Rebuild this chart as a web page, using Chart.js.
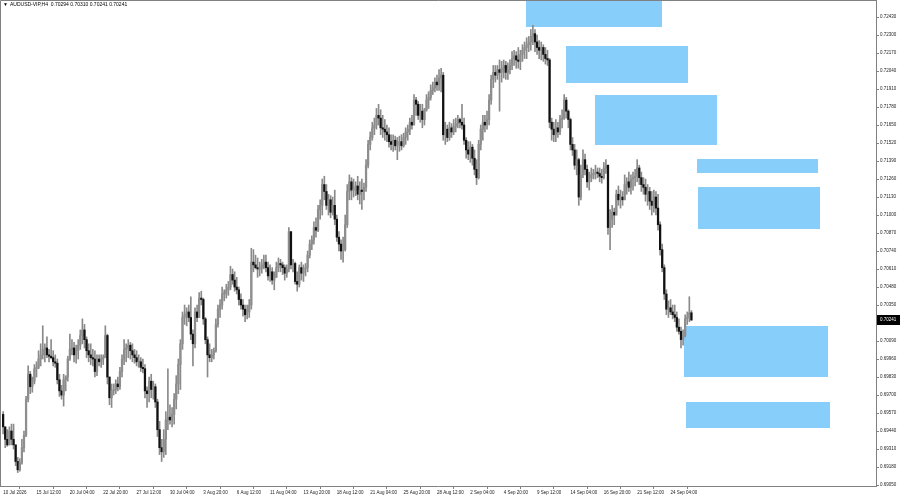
<!DOCTYPE html>
<html>
<head>
<meta charset="utf-8">
<script src="https://cdn.jsdelivr.net/npm/chart.js@4.4.1/dist/chart.umd.min.js"></script>
<style>
html,body{margin:0;padding:0;background:#fff;}
#wrap{width:900px;height:500px;position:relative;}
</style>
</head>
<body>
<div id="wrap"><canvas id="myChart"></canvas></div>
<script>
var symbolTitle = "AUDUSD-VIP,H4";
var firstOpen = 0.6956;

// H4 bars (open of each bar = previous close)
var highs = [
0.6958,0.6947,0.6945,0.6947,0.6949,0.6949,0.6934,0.6925,0.6924,0.6938,
0.6944,0.6969,0.6991,0.6987,0.6983,0.6992,0.6994,0.7002,0.7007,0.7020,
0.7007,0.7012,0.7003,0.7010,0.7002,0.6999,0.6996,0.6985,0.6977,0.6985,
0.6984,0.6998,0.7014,0.7010,0.7008,0.7006,0.7010,0.7017,0.7025,0.7021,
0.7012,0.7007,0.7007,0.7003,0.7002,0.6999,0.6999,0.6999,0.6999,0.7020,
0.7014,0.6983,0.6978,0.6978,0.6981,0.6983,0.6990,0.6999,0.7010,0.7007,
0.7010,0.7008,0.7007,0.7003,0.7002,0.6999,0.6997,0.6996,0.6992,0.6976,
0.6983,0.6985,0.6980,0.6978,0.6967,0.6951,0.6938,0.6945,0.6958,0.6989,
0.6963,0.6961,0.6971,0.6984,0.6996,0.7010,0.7030,
0.7035,0.7033,0.7035,0.7041,0.7017,0.7033,0.7035,0.7044,0.7045,0.7040,
0.7026,0.7012,0.7007,0.7003,0.7004,0.7025,0.7035,0.7039,0.7048,0.7046,
0.7050,0.7052,0.7063,0.7061,0.7059,0.7055,0.7048,0.7043,0.7039,0.7035,
0.7035,0.7039,0.7076,0.7075,0.7071,0.7069,0.7066,0.7068,0.7071,0.7071,
0.7066,0.7064,0.7062,0.7059,0.7066,0.7069,0.7068,0.7066,0.7064,0.7064,
0.7091,0.7088,0.7068,0.7066,0.7059,0.7064,0.7066,0.7064,0.7065,0.7074,
0.7082,0.7085,0.7095,0.7098,0.7107,0.7111,0.7126,0.7128,0.7122,0.7115,
0.7114,0.7113,0.7118,0.7100,0.7088,0.7082,0.7084,0.7100,0.7122,0.7129,0.7127,
0.7126,0.7124,0.7128,0.7124,0.7126,0.7123,0.7140,0.7154,0.7160,0.7167,
0.7170,0.7177,0.7180,0.7176,0.7172,0.7169,0.7165,0.7163,0.7158,0.7158,
0.7157,0.7156,0.7157,0.7158,0.7159,0.7163,0.7165,0.7170,0.7172,0.7187,
0.7185,0.7182,0.7180,0.7180,0.7177,0.7187,0.7189,0.7194,0.7196,0.7199,
0.7201,0.7205,0.7206,0.7203,0.7167,0.7165,0.7167,0.7166,0.7169,0.7170,
0.7172,0.7170,0.7180,0.7170,0.7156,0.7153,0.7153,0.7151,0.7147,0.7140,
0.7154,0.7165,0.7172,0.7172,0.7175,0.7187,0.7201,0.7208,0.7208,0.7208,
0.7212,0.7211,0.7212,0.7211,0.7210,0.7212,0.7218,0.7219,0.7218,
0.7221,0.7219,0.7223,0.7225,0.7228,0.7229,0.7234,0.7237,0.7234,0.7230,
0.7226,0.7225,0.7223,0.7221,0.7219,0.7213,0.7170,0.7167,0.7169,0.7167,
0.7172,0.7176,0.7187,0.7185,0.7176,0.7170,0.7156,0.7151,0.7147,0.7141,
0.7136,0.7147,0.7144,0.7136,0.7131,0.7134,0.7133,0.7136,0.7134,0.7134,
0.7133,0.7138,0.7140,0.7136,0.7104,0.7107,0.7105,0.7118,0.7121,0.7118,
0.7117,0.7129,0.7127,0.7131,0.7129,0.7131,0.7133,0.7140,0.7136,0.7131,
0.7127,0.7126,0.7122,0.7120,0.7117,0.7118,0.7117,0.7115,0.7095,0.7079,
0.7064,0.7046,0.7038,0.7039,0.7035,0.7035,0.7030,0.7025,0.7019,0.7017,
0.7028,0.7030,0.7041,0.70310];

var lows = [
0.6942,0.6932,0.6933,0.6934,0.6934,0.6931,0.6919,0.6914,0.6915,0.6920,
0.6929,0.6940,0.6965,0.6971,0.6972,0.6978,0.6983,0.6989,0.6991,0.6996,
0.6994,0.6997,0.6994,0.6996,0.6991,0.6990,0.6978,0.6969,0.6967,0.6962,
0.6973,0.6980,0.6995,0.6999,0.6994,0.6993,0.6996,0.7003,0.7007,0.7004,
0.6997,0.6994,0.6992,0.6991,0.6983,0.6984,0.6991,0.6990,0.6992,0.6997,
0.6978,0.6963,0.6961,0.6970,0.6971,0.6973,0.6974,0.6983,0.6992,0.6994,
0.6997,0.6996,0.6994,0.6993,0.6991,0.6990,0.6987,0.6986,0.6968,0.6961,
0.6965,0.6968,0.6967,0.6961,0.6940,0.6927,0.6922,0.6925,0.6927,0.6945,
0.6949,0.6947,0.6949,0.6960,0.6971,0.6974,0.7003,
0.7021,0.7020,0.7023,0.7010,0.6991,0.7004,0.7023,0.7026,0.7035,0.7021,
0.7007,0.6983,0.6994,0.6994,0.6996,0.7001,0.7019,0.7026,0.7032,0.7038,
0.7040,0.7042,0.7046,0.7050,0.7045,0.7043,0.7035,0.7032,0.7027,0.7023,
0.7025,0.7026,0.7032,0.7059,0.7061,0.7055,0.7056,0.7058,0.7061,0.7059,
0.7053,0.7052,0.7050,0.7046,0.7055,0.7059,0.7059,0.7057,0.7053,0.7055,
0.7059,0.7061,0.7059,0.7050,0.7045,0.7048,0.7053,0.7052,0.7056,0.7059,
0.7069,0.7075,0.7079,0.7084,0.7088,0.7097,0.7100,0.7111,0.7104,0.7100,
0.7098,0.7100,0.7093,0.7081,0.7074,0.7068,0.7066,0.7074,0.7091,0.7111,0.7111,
0.7113,0.7114,0.7111,0.7108,0.7104,0.7111,0.7117,0.7134,0.7147,0.7154,
0.7158,0.7162,0.7165,0.7158,0.7156,0.7154,0.7153,0.7149,0.7147,0.7146,
0.7147,0.7140,0.7146,0.7147,0.7149,0.7151,0.7154,0.7158,0.7162,0.7165,
0.7172,0.7169,0.7167,0.7163,0.7165,0.7175,0.7177,0.7183,0.7187,0.7189,
0.7190,0.7190,0.7189,0.7154,0.7151,0.7153,0.7154,0.7156,0.7158,0.7160,
0.7163,0.7163,0.7162,0.7151,0.7141,0.7140,0.7138,0.7136,0.7129,0.7122,
0.7126,0.7147,0.7154,0.7160,0.7162,0.7165,0.7180,0.7192,0.7196,0.7198,
0.7175,0.7196,0.7199,0.7198,0.7198,0.7202,0.7205,0.7208,0.7206,
0.7206,0.7205,0.7211,0.7213,0.7213,0.7218,0.7219,0.7223,0.7218,0.7216,
0.7213,0.7212,0.7211,0.7209,0.7208,0.7163,0.7154,0.7153,0.7153,0.7156,
0.7158,0.7163,0.7169,0.7170,0.7163,0.7147,0.7143,0.7133,0.7129,0.7107,
0.7111,0.7127,0.7129,0.7120,0.7118,0.7124,0.7126,0.7126,0.7127,0.7124,
0.7123,0.7126,0.7130,0.7086,0.7075,0.7091,0.7093,0.7100,0.7107,0.7105,
0.7107,0.7111,0.7115,0.7117,0.7115,0.7118,0.7121,0.7124,0.7122,0.7117,
0.7115,0.7110,0.7107,0.7104,0.7100,0.7102,0.7100,0.7089,0.7071,0.7059,
0.7039,0.7028,0.7026,0.7028,0.7025,0.7023,0.7016,0.7014,0.7004,0.7006,
0.7012,0.7021,0.7023,0.70241];

var closes = [
0.6947,0.6938,0.6934,0.6944,0.6938,0.6934,0.6922,0.6916,0.6921,0.6932,
0.6941,0.6967,0.6985,0.6976,0.6980,0.6989,0.6990,0.6996,0.6999,0.7003,
0.7004,0.6999,0.6998,0.6997,0.6994,0.6993,0.6981,0.6973,0.6970,0.6981,
0.6983,0.6996,0.7003,0.7004,0.6999,0.7002,0.7006,0.7013,0.7017,0.7010,
0.7002,0.6999,0.6997,0.6996,0.6987,0.6996,0.6994,0.6996,0.6997,0.7013,
0.6983,0.6968,0.6973,0.6974,0.6978,0.6976,0.6987,0.6996,0.7003,0.7004,
0.7006,0.7002,0.6999,0.6997,0.6994,0.6994,0.6990,0.6989,0.6973,0.6971,
0.6980,0.6974,0.6976,0.6965,0.6945,0.6932,0.6929,0.6938,0.6952,0.6954,
0.6952,0.6956,0.6967,0.6978,0.6992,0.7007,0.7026,
0.7028,0.7030,0.7026,0.7014,0.7007,0.7030,0.7026,0.7040,0.7039,0.7025,
0.7010,0.6999,0.6997,0.6999,0.7002,0.7021,0.7032,0.7035,0.7043,0.7043,
0.7046,0.7048,0.7057,0.7053,0.7048,0.7046,0.7039,0.7035,0.7032,0.7028,
0.7030,0.7035,0.7066,0.7064,0.7062,0.7061,0.7062,0.7064,0.7066,0.7062,
0.7056,0.7059,0.7053,0.7055,0.7062,0.7065,0.7064,0.7062,0.7058,0.7061,
0.7088,0.7064,0.7065,0.7052,0.7050,0.7062,0.7058,0.7061,0.7062,0.7071,
0.7079,0.7082,0.7091,0.7089,0.7104,0.7107,0.7122,0.7117,0.7107,0.7111,
0.7102,0.7107,0.7097,0.7084,0.7079,0.7074,0.7075,0.7093,0.7117,0.7124,0.7118,
0.7118,0.7121,0.7115,0.7118,0.7117,0.7120,0.7136,0.7151,0.7156,0.7163,
0.7165,0.7172,0.7170,0.7163,0.7162,0.7160,0.7158,0.7153,0.7151,0.7154,
0.7150,0.7151,0.7153,0.7150,0.7156,0.7160,0.7162,0.7167,0.7165,0.7183,
0.7180,0.7172,0.7175,0.7169,0.7176,0.7183,0.7185,0.7190,0.7192,0.7196,
0.7194,0.7199,0.7201,0.7158,0.7162,0.7156,0.7163,0.7160,0.7164,0.7166,
0.7169,0.7167,0.7165,0.7154,0.7147,0.7144,0.7149,0.7141,0.7133,0.7127,
0.7151,0.7162,0.7167,0.7165,0.7169,0.7183,0.7198,0.7203,0.7201,0.7205,
0.7203,0.7206,0.7208,0.7203,0.7205,0.7208,0.7213,0.7215,0.7212,
0.7211,0.7216,0.7219,0.7221,0.7223,0.7225,0.7229,0.7231,0.7225,0.7221,
0.7219,0.7221,0.7216,0.7213,0.7212,0.7167,0.7162,0.7158,0.7163,0.7160,
0.7169,0.7170,0.7183,0.7175,0.7169,0.7151,0.7147,0.7136,0.7140,0.7113,
0.7129,0.7140,0.7133,0.7124,0.7127,0.7129,0.7130,0.7131,0.7130,0.7128,
0.7127,0.7134,0.7136,0.7091,0.7097,0.7102,0.7100,0.7115,0.7111,0.7113,
0.7111,0.7122,0.7124,0.7120,0.7126,0.7127,0.7128,0.7134,0.7127,0.7122,
0.7120,0.7115,0.7117,0.7110,0.7107,0.7113,0.7105,0.7093,0.7075,0.7062,
0.7043,0.7032,0.7033,0.7030,0.7028,0.7026,0.7019,0.7016,0.7010,0.7013,
0.7025,0.7026,0.70294,0.70241];

// one time label every 16 bars, starting on the first bar
var timeLabels = ["10 Jul 2026","15 Jul 12:00","20 Jul 04:00","22 Jul 20:00","27 Jul 12:00",
"30 Jul 04:00","3 Aug 20:00","6 Aug 12:00","11 Aug 04:00","13 Aug 20:00","18 Aug 12:00",
"21 Aug 04:00","25 Aug 20:00","28 Aug 12:00","2 Sep 04:00","4 Sep 20:00","9 Sep 12:00",
"14 Sep 04:00","16 Sep 20:00","21 Sep 12:00","24 Sep 04:00"];
var labelStep = 16;

var priceTicks = [0.72430,0.72300,0.72170,0.72040,0.71910,0.71780,0.71650,0.71520,0.71390,
0.71260,0.71130,0.71000,0.70870,0.70740,0.70610,0.70480,0.70350,0.70220,0.70090,0.69960,
0.69830,0.69700,0.69570,0.69440,0.69310,0.69180,0.69050];

// supply / demand boxes: start and end in bars, top and bottom in price
var zoneFrom = [250.7, 269.9, 283.8, 332.7, 333.2, 326.5, 327.4];
var zoneTo   = [315.9, 328.4, 342.3, 390.7, 391.7, 395.5, 396.5];
var zoneHigh = [0.7260, 0.72221, 0.71868, 0.71407, 0.71205, 0.70195, 0.69647];
var zoneLow  = [0.72358, 0.71955, 0.71508, 0.71306, 0.70902, 0.69828, 0.69460];

var totalSlots = 420;
var lead = 1;
var chart;

var zonePlugin = {
	id: 'zones',
	beforeDatasetsDraw: function(ch) {
		var c = ch.ctx, a = ch.chartArea, xs = ch.scales.x, ys = ch.scales.y;
		c.save();
		c.beginPath();
		c.rect(a.left, a.top, a.right - a.left, a.bottom - a.top);
		c.clip();
		c.fillStyle = 'rgb(135,206,250)';
		for (var i = 0; i < zoneFrom.length; i++) {
			var x1 = Math.round(xs.getPixelForValue(zoneFrom[i] + lead));
			var x2 = Math.round(xs.getPixelForValue(zoneTo[i] + lead));
			var y1 = Math.round(ys.getPixelForValue(zoneHigh[i]));
			var y2 = Math.round(ys.getPixelForValue(zoneLow[i]));
			c.fillRect(x1, y1, x2 - x1, y2 - y1);
		}
		c.restore();
	}
};

var framePlugin = {
	id: 'frame',
	afterDraw: function(ch) {
		var c = ch.ctx, a = ch.chartArea, ys = ch.scales.y;
		var n = closes.length;
		c.save();
		c.strokeStyle = '#808080';
		c.lineWidth = 1;
		c.beginPath();
		c.moveTo(a.left + 0.5, a.bottom);
		c.lineTo(a.left + 0.5, a.top + 0.5);
		c.lineTo(a.right, a.top + 0.5);
		c.stroke();

		// header
		c.fillStyle = '#000';
		c.textBaseline = 'middle';
		c.font = '5px "Liberation Sans"';
		c.fillText('\u25BC', 3, 5);
		var ohlc = [closes[n - 2], highs[n - 1], lows[n - 1], closes[n - 1]];
		c.fillText(symbolTitle + '  ' + ohlc.map(function(v){ return v.toFixed(5); }).join(' '), 10, 5);

		// current price tag
		var yl = Math.round(ys.getPixelForValue(closes[n - 1]));
		c.fillStyle = '#000';
		c.fillRect(a.right + 1, yl - 5, 23, 10);
		c.fillStyle = '#fff';
		c.font = '4.5px "Liberation Sans"';
		c.fillText(closes[n - 1].toFixed(5), a.right + 4, yl);
		c.restore();
	}
};

window.onload = function()
{
	var n = Math.min(highs.length, lows.length, closes.length);
	var cats = [];
	for (var k = 0; k < totalSlots; k++) cats.push('');

	var wicks = [null], bodies = [null], bodyColors = ['#000'];
	for (var i = 0; i < n; i++) {
		var o = i ? closes[i - 1] : firstOpen;
		wicks.push([lows[i], highs[i]]);
		bodies.push([o, closes[i]]);
		bodyColors.push(closes[i] >= o ? '#8e8e8e' : '#111111');
	}

	var small = {family: '"Liberation Sans", Arial, sans-serif', size: 4.5};

	ctx = document.getElementById('myChart').getContext('2d');
	chart = new Chart(ctx, {
		type: 'bar',
		data: {
			labels: cats,
			datasets: [{
				label: 'body',
				data: bodies,
				backgroundColor: bodyColors,
				barThickness: 1.6,
				minBarLength: 1,
				grouped: false,
				borderWidth: 0,
				order: 0
			}, {
				label: 'wick',
				data: wicks,
				backgroundColor: '#8a8a8a',
				barThickness: 1,
				grouped: false,
				borderWidth: 0,
				order: 1
			}]
		},
		options: {
			responsive: true,
			maintainAspectRatio: false,
			animation: false,
			devicePixelRatio: 1,
			events: [],
			layout: {padding: 0},
			plugins: {legend: {display: false}, tooltip: {enabled: false}},
			scales: {
				x: {
					type: 'category',
					offset: true,
					grid: {drawOnChartArea: false, drawTicks: true, tickLength: 3, color: '#808080'},
					border: {display: true, color: '#808080'},
					ticks: {
						autoSkip: false, maxRotation: 0, minRotation: 0,
						align: 'start', padding: 1, color: '#222', font: small,
						callback: function(v, idx) {
							var b = idx - lead;
							if (b >= 0 && b % labelStep === 0 && b / labelStep < timeLabels.length) return timeLabels[b / labelStep];
							return null;
						}
					},
					afterFit: function(s) { s.height = 14; s.paddingLeft = 0; s.paddingRight = 0; }
				},
				y: {
					position: 'right',
					min: 0.69043,
					max: 0.72553,
					grid: {drawOnChartArea: false, drawTicks: true, tickLength: 3, color: '#808080'},
					border: {display: true, color: '#808080'},
					afterBuildTicks: function(s) {
						s.ticks = priceTicks.map(function(v){ return {value: v}; });
					},
					ticks: {
						padding: 1, color: '#222', font: small,
						callback: function(v) { return Number(v).toFixed(5); }
					},
					afterFit: function(s) { s.width = 24; s.paddingTop = 0; s.paddingBottom = 0; }
				}
			}
		},
		plugins: [zonePlugin, framePlugin]
	});
}
</script>
</body>
</html>
